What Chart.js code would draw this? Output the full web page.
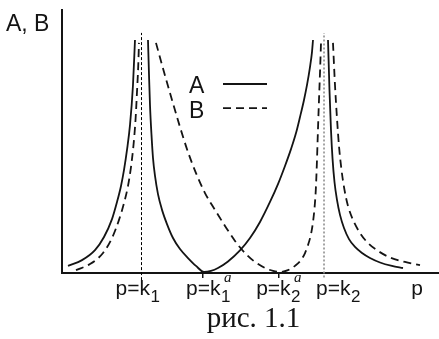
<!DOCTYPE html>
<html>
<head>
<meta charset="utf-8">
<script src="https://cdn.jsdelivr.net/npm/chart.js@4"></script>
<style>
  html, body { margin: 0; padding: 0; background: #ffffff; }
  #wrap { width: 439px; height: 339px; position: relative; }
</style>
</head>
<body>
<div id="wrap"><canvas id="c" width="439" height="339"></canvas></div>
<script>
// ---- data (arbitrary units; null = break at an asymptote) ----
const pA = [0.159,0.531,0.875,1.114,1.326,1.459,1.565,1.645,1.724,1.804,1.883,1.936, null,
            2.281,2.308,2.334,2.374,2.414,2.467,2.546,2.653,2.785,2.944,3.130,3.342,3.554,3.767,3.952,4.138,4.403,4.721,4.987,5.252,5.517,5.729,5.915,6.074,6.207,6.313,6.419,6.499,6.578,6.631,6.658, null,
            7.056,7.095,7.135,7.175,7.228,7.294,7.374,7.480,7.613,7.772,7.958,8.170,8.435,8.753,9.045];
const A  = [0.27,0.49,0.87,1.37,2.05,2.70,3.31,3.92,4.68,5.63,7.15,8.86, null,
            8.86,7.53,6.39,5.25,4.37,3.69,3.00,2.40,1.86,1.33,0.91,0.57,0.27,0.04,0.08,0.19,0.44,0.86,1.33,1.94,2.70,3.38,4.07,4.71,5.32,5.93,6.58,7.15,7.83,8.40,8.86, null,
            8.86,6.96,5.44,4.37,3.46,2.78,2.21,1.71,1.29,0.99,0.76,0.57,0.40,0.27,0.19];
const pB = [0.371,0.743,1.088,1.326,1.512,1.645,1.751,1.830,1.897,1.950,1.989,2.021,2.042, null,
            2.493,2.706,2.918,3.130,3.342,3.554,3.793,4.058,4.324,4.589,4.854,5.119,5.385,5.597,5.782,5.995,6.180,6.340,6.446,6.525,6.605,6.658,6.698,6.732,6.759,6.785,6.812,6.844,6.870, null,
            7.188,7.241,7.294,7.347,7.414,7.493,7.586,7.719,7.905,8.117,8.382,8.700,9.098,9.496];
const B  = [0.11,0.34,0.76,1.33,2.02,2.66,3.31,4.03,4.87,5.82,6.88,7.83,8.75, null,
            8.75,7.64,6.58,5.55,4.60,3.80,3.04,2.40,1.79,1.22,0.76,0.42,0.19,0.08,0.04,0.11,0.27,0.49,0.76,1.06,1.48,1.94,2.47,3.16,4.11,5.25,6.39,7.64,8.75, null,
            8.75,7.15,5.89,4.83,3.92,3.16,2.55,2.02,1.52,1.14,0.84,0.59,0.42,0.30];

// marked positions on the p axis
const kValues   = [2.109, 3.74, 5.76, 6.95];     // k1, k1a, k2a, k2
const kMain     = ['p=k', 'p=k', 'p=k', 'p=k'];
const kSub      = ['1', '1', '2', '2'];
const kSup      = ['', 'a', 'a', ''];
const guideTop  = 9.13;                           // top of the vertical guides at k1, k2
const pLabelAt  = 9.42;
const seriesLabels = ['A', 'B'];
const yTitle = 'A, B';
const xTitle = 'p';
const caption = 'рис. 1.1';

// ---- build ----
const toXY = (xs, ys) => xs.map((v, i) => v === null ? { x: NaN, y: null } : { x: v, y: ys[i] });

const SANS = '"Liberation Sans", Arial, sans-serif';
const SERIF = '"Liberation Serif", "Times New Roman", serif';
const INK = '#141414';

const labelDx = [-26, -17, -23, -8];

const decorPlugin = {
  id: 'decor',
  afterDraw(chart) {
    const ctx = chart.ctx;
    const xs = chart.scales.x;
    const ca = chart.chartArea;
    ctx.save();
    ctx.fillStyle = INK;
    ctx.textBaseline = 'alphabetic';
    ctx.textAlign = 'left';

    // y title
    ctx.font = '23px ' + SANS;
    ctx.fillText(yTitle, ca.left - 56, ca.top + 20.7);

    // tick labels
    const base = ca.bottom + 22;
    kValues.forEach((v, i) => {
      const px = xs.getPixelForValue(v) + labelDx[i];
      ctx.font = '21px ' + SANS;
      ctx.fillText(kMain[i], px, base);
      const w = ctx.measureText(kMain[i]).width;
      ctx.font = '17px ' + SANS;
      ctx.fillText(kSub[i], px + w + 0.5, base + 7);
      if (kSup[i]) {
        ctx.font = 'italic 15px ' + SERIF;
        ctx.fillText(kSup[i], px + w + 3.5, base - 13.5);
      }
    });
    // axis name p
    ctx.font = '21px ' + SANS;
    ctx.textAlign = 'center';
    ctx.fillText(xTitle, xs.getPixelForValue(pLabelAt), base);

    // caption
    ctx.font = '29px ' + SERIF;
    ctx.fillText(caption, ca.left + 191.5, ca.bottom + 53.7);

    // legend (text then line sample)
    ctx.textAlign = 'left';
    ctx.font = '23px ' + SANS;
    const lx = ca.left + 127, ly = ca.top + 83.3, step = 24.2;
    chart.data.datasets.slice(0, 2).forEach((ds, i) => {
      ctx.fillStyle = INK;
      ctx.fillText(ds.label, lx, ly + i * step);
      ctx.beginPath();
      ctx.strokeStyle = ds.borderColor;
      ctx.lineWidth = ds.borderWidth;
      ctx.setLineDash(ds.borderDash || []);
      const yy = ly - 9.3 + i * step;
      ctx.moveTo(lx + 34, yy);
      ctx.lineTo(lx + 78, yy);
      ctx.stroke();
    });
    ctx.restore();
  }
};

new Chart(document.getElementById('c'), {
  type: 'line',
  data: {
    datasets: [
      { label: seriesLabels[0], data: toXY(pA, A), borderColor: INK, borderWidth: 1.8,
        borderDash: [], pointRadius: 0, cubicInterpolationMode: 'monotone', spanGaps: false, fill: false },
      { label: seriesLabels[1], data: toXY(pB, B), borderColor: INK, borderWidth: 1.8,
        borderDash: [8, 5], pointRadius: 0, cubicInterpolationMode: 'monotone', spanGaps: false, fill: false },
      { label: 'k1', data: [{ x: kValues[0], y: -0.27 }, { x: kValues[0], y: guideTop }],
        borderColor: '#000000', borderWidth: 1, borderDash: [3, 2], pointRadius: 0, clip: false },
      { label: 'k2', data: [{ x: kValues[3], y: -0.17 }, { x: kValues[3], y: guideTop }],
        borderColor: '#8f8f8f', borderWidth: 1.6, borderDash: [2, 2], pointRadius: 0, clip: false }
    ]
  },
  options: {
    responsive: false,
    animation: false,
    events: [],
    layout: { padding: { left: 62, right: 0, top: 10, bottom: 66 } },
    plugins: { legend: { display: false }, tooltip: { enabled: false }, title: { display: false } },
    scales: {
      x: {
        type: 'linear', min: 0, max: 10,
        afterFit: s => { s.height = 0; },
        afterBuildTicks: s => { s.ticks = [kValues[1], kValues[2]].map(v => ({ value: v })); },
        ticks: { display: false },
        grid: { display: true, drawOnChartArea: false, drawTicks: true, tickLength: 5, color: INK, lineWidth: 1.5 },
        border: { display: true, color: INK, width: 2 }
      },
      y: {
        type: 'linear', min: 0, max: 10,
        afterFit: s => { s.width = 0; },
        ticks: { display: false },
        grid: { display: false },
        border: { display: true, color: INK, width: 2 }
      }
    }
  },
  plugins: [decorPlugin]
});
</script>
</body>
</html>
